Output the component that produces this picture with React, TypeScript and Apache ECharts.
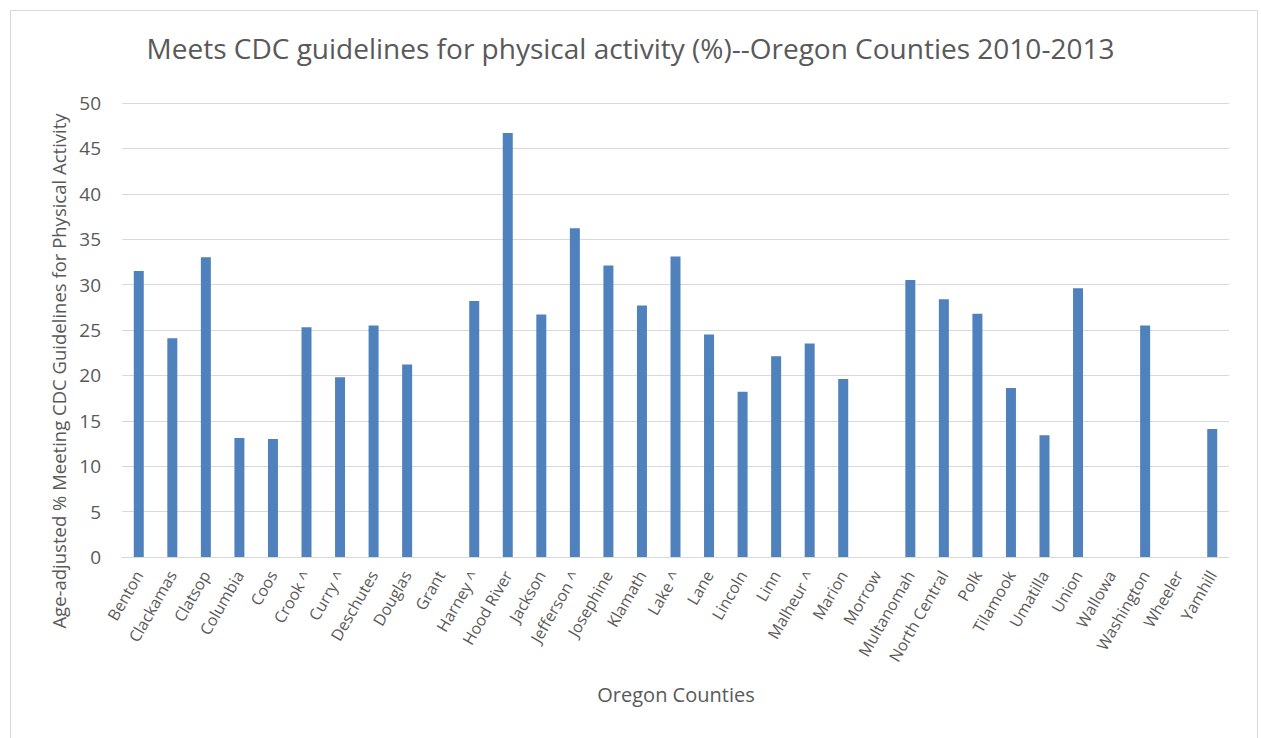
import React, { useEffect, useRef } from "react";
import * as echarts from "echarts";

const counties = [
  "Benton", "Clackamas", "Clatsop", "Columbia", "Coos", "Crook ^", "Curry ^", "Deschutes", "Douglas", "Grant",
  "Harney ^", "Hood River", "Jackson", "Jefferson ^", "Josephine", "Klamath", "Lake ^", "Lane", "Lincoln", "Linn",
  "Malheur ^", "Marion", "Morrow", "Multanomah", "North Central", "Polk", "Tilamook", "Umatilla", "Union", "Wallowa",
  "Washington", "Wheeler", "Yamhill",
];

const meetsPct: (number | null)[] = [
  31.5, 24.1, 33.0, 13.1, 13.0, 25.3, 19.8, 25.5, 21.2, null,
  28.2, 46.7, 26.7, 36.2, 32.1, 27.7, 33.1, 24.5, 18.2, 22.1,
  23.5, 19.6, null, 30.5, 28.4, 26.8, 18.6, 13.4, 29.6, null,
  25.5, null, 14.1,
];

const yTicks = { min: 0, max: 50, interval: 5 };

const titleText = "Meets CDC guidelines for physical activity (%)--Oregon Counties 2010-2013";
const yName = "Age-adjusted % Meeting CDC Guidelines for Physical Activity";
const xName = "Oregon Counties";

export default function App() {
  const ref = useRef<HTMLDivElement>(null);
  useEffect(() => {
    document.body.style.margin = "0";
    const chart = echarts.init(ref.current!, null, { renderer: "svg" });
    const font = "'Open Sans', sans-serif";
    const txt = "#595959";
    chart.setOption({
      animation: false,
      backgroundColor: "#ffffff",
      textStyle: { fontFamily: font },
      title: {
        text: titleText,
        left: "center",
        top: 29,
        textStyle: { fontFamily: font, fontSize: 28, fontWeight: "normal", color: txt },
      },
      graphic: [
        {
          type: "rect",
          shape: { x: 10.5, y: 10.5, width: 1247, height: 740 },
          style: { fill: "none", stroke: "#d9d9d9", lineWidth: 1 },
          silent: true,
        },
        {
          type: "text",
          x: 676,
          y: 694,
          style: {
            text: xName,
            fontFamily: font,
            fontSize: 20,
            fill: txt,
            align: "center",
            verticalAlign: "middle",
          },
        },
        {
          type: "text",
          x: 58,
          y: 371,
          rotation: Math.PI / 2,
          style: {
            text: yName,
            fontFamily: font,
            fontSize: 18.5,
            fill: txt,
            align: "center",
            verticalAlign: "middle",
          },
        },
      ],
      grid: { left: 122, right: 32, top: 103, bottom: 181, containLabel: false },
      xAxis: {
        type: "category",
        data: counties,
        axisLine: { show: true, lineStyle: { color: "#d9d9d9", width: 1 } },
        axisTick: { show: false },
        axisLabel: {
          interval: 0,
          rotate: 60,
          fontSize: 16,
          color: txt,
          fontFamily: font,
          margin: 15,
        },
      },
      yAxis: {
        type: "value",
        min: yTicks.min,
        max: yTicks.max,
        interval: yTicks.interval,
        axisLine: { show: false },
        axisTick: { show: false },
        axisLabel: { fontSize: 19, color: txt, fontFamily: font, margin: 21 },
        splitLine: { show: true, lineStyle: { color: "#d9d9d9", width: 1 } },
      },
      series: [
        {
          type: "bar",
          data: meetsPct,
          barWidth: 10,
          itemStyle: { color: "#4f81bd" },
        },
      ],
    });
    return () => chart.dispose();
  }, []);
  return <div ref={ref} style={{ width: 1261, height: 738 }} />;
}
